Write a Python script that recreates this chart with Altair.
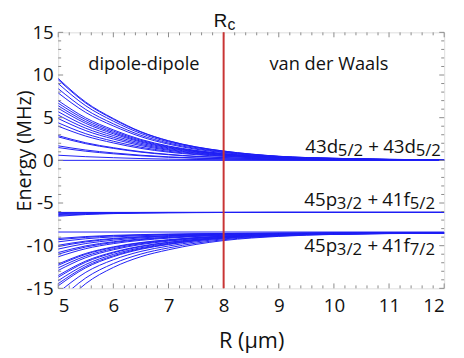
import altair as alt
import pandas as pd

# ---------------- data ----------------
R_GRID = [5, 5.5, 6, 6.5, 7, 7.5, 8, 9, 10, 12]

# 43d5/2 + 43d5/2 manifold (curves converging to 0 MHz)
UPPER_CURVES = [
    [9.60, 6.82, 4.90, 3.36, 2.30, 1.58, 1.09, 0.48, 0.24, 0.06],
    [9.45, 6.71, 4.82, 3.31, 2.27, 1.56, 1.08, 0.47, 0.24, 0.06],
    [9.00, 6.39, 4.59, 3.15, 2.16, 1.49, 1.03, 0.45, 0.23, 0.05],
    [8.40, 5.96, 4.28, 2.94, 2.02, 1.39, 0.96, 0.42, 0.21, 0.05],
    [7.90, 5.61, 4.03, 2.77, 1.90, 1.30, 0.90, 0.40, 0.20, 0.05],
    [7.00, 4.97, 3.57, 2.45, 1.68, 1.16, 0.80, 0.35, 0.18, 0.04],
    [6.70, 4.76, 3.42, 2.35, 1.61, 1.11, 0.76, 0.34, 0.17, 0.04],
    [6.40, 4.54, 3.26, 2.24, 1.54, 1.06, 0.73, 0.32, 0.16, 0.04],
    [6.10, 4.33, 3.11, 2.14, 1.46, 1.01, 0.70, 0.31, 0.15, 0.04],
    [5.70, 4.05, 2.91, 2.00, 1.37, 0.94, 0.65, 0.29, 0.14, 0.03],
    [5.30, 3.76, 2.70, 1.86, 1.27, 0.87, 0.60, 0.27, 0.13, 0.03],
    [4.90, 3.48, 2.50, 1.72, 1.18, 0.81, 0.56, 0.25, 0.12, 0.03],
    [4.40, 3.12, 2.24, 1.54, 1.06, 0.73, 0.50, 0.22, 0.11, 0.03],
    [4.00, 2.84, 2.04, 1.40, 0.96, 0.66, 0.46, 0.20, 0.10, 0.02],
    [2.90, 2.06, 1.48, 1.02, 0.70, 0.48, 0.33, 0.15, 0.07, 0.02],
    [2.75, 1.95, 1.40, 0.96, 0.66, 0.45, 0.31, 0.14, 0.07, 0.02],
    [1.70, 1.21, 0.87, 0.60, 0.41, 0.28, 0.19, 0.09, 0.04, 0.01],
    [1.50, 1.07, 0.77, 0.53, 0.36, 0.25, 0.17, 0.08, 0.04, 0.01],
    [0.60, 0.43, 0.31, 0.21, 0.14, 0.10, 0.07, 0.03, 0.02, 0.00],
]

# 45p3/2 + 41f5/2 manifold (converging to about -6.1 MHz)
MIDDLE_CURVES = [
    [-6.15, -6.13, -6.12, -6.11, -6.10, -6.10, -6.10, -6.10, -6.10, -6.10],
    [-6.25, -6.18, -6.15, -6.12, -6.11, -6.11, -6.10, -6.10, -6.10, -6.10],
    [-6.35, -6.24, -6.18, -6.14, -6.12, -6.11, -6.11, -6.10, -6.10, -6.10],
    [-6.45, -6.29, -6.21, -6.16, -6.13, -6.12, -6.11, -6.10, -6.10, -6.10],
    [-6.55, -6.35, -6.24, -6.17, -6.14, -6.12, -6.11, -6.10, -6.10, -6.10],
]

# 45p3/2 + 41f7/2 manifold (converging to about -8.5 MHz)
LOWER_CURVES = [
    [-9.15, -8.93, -8.79, -8.70, -8.64, -8.60, -8.57, -8.53, -8.51, -8.50],
    [-9.30, -9.03, -8.86, -8.75, -8.68, -8.62, -8.58, -8.54, -8.52, -8.50],
    [-9.55, -9.19, -8.97, -8.83, -8.73, -8.66, -8.61, -8.55, -8.52, -8.50],
    [-9.95, -9.46, -9.15, -8.95, -8.82, -8.72, -8.65, -8.57, -8.53, -8.51],
    [-10.10, -9.56, -9.22, -9.00, -8.85, -8.74, -8.66, -8.57, -8.53, -8.51],
    [-10.40, -9.75, -9.36, -9.09, -8.92, -8.79, -8.69, -8.59, -8.54, -8.51],
    [-10.80, -10.02, -9.54, -9.21, -9.01, -8.85, -8.73, -8.60, -8.55, -8.51],
    [-11.00, -10.15, -9.63, -9.28, -9.05, -8.88, -8.75, -8.61, -8.55, -8.51],
    [-11.30, -10.35, -9.76, -9.37, -9.12, -8.92, -8.78, -8.63, -8.56, -8.51],
    [-12.15, -10.91, -10.14, -9.63, -9.30, -9.05, -8.87, -8.66, -8.57, -8.51],
    [-12.30, -11.01, -10.21, -9.68, -9.34, -9.07, -8.88, -8.67, -8.58, -8.52],
    [-12.60, -11.21, -10.35, -9.77, -9.40, -9.12, -8.91, -8.68, -8.58, -8.52],
    [-12.90, -11.40, -10.48, -9.86, -9.47, -9.16, -8.94, -8.70, -8.59, -8.52],
    [-13.50, -11.80, -10.75, -10.05, -9.60, -9.25, -9.00, -8.73, -8.60, -8.52],
    [-13.70, -11.93, -10.84, -10.11, -9.64, -9.28, -9.02, -8.73, -8.60, -8.52],
    [-14.10, -12.20, -11.02, -10.24, -9.73, -9.34, -9.06, -8.75, -8.61, -8.52],
    [-14.45, -12.43, -11.18, -10.34, -9.81, -9.39, -9.10, -8.77, -8.62, -8.52],
    [-14.70, -12.59, -11.29, -10.42, -9.86, -9.43, -9.12, -8.78, -8.62, -8.52],
    [-15.50, -13.12, -11.65, -10.67, -10.04, -9.55, -9.20, -8.82, -8.64, -8.53],
    [-16.50, -13.78, -12.10, -10.98, -10.26, -9.70, -9.30, -8.86, -8.66, -8.53],
    [-17.50, -14.44, -12.55, -11.29, -10.48, -9.85, -9.40, -8.91, -8.68, -8.54],
]

# non-interacting (flat) levels
FLAT_LEVELS = [0.0, -6.1, -8.4]
FLAT_R = [5, 12]

R_CROSSOVER = [8]

X_MAJOR = [5, 6, 7, 8, 9, 10, 11, 12]
X_MINOR = [round(5 + 0.2 * i, 1) for i in range(36) if i % 5 != 0]
Y_MAJOR = [-15, -10, -5, 0, 5, 10, 15]
Y_MINOR = [v for v in range(-15, 16) if v % 5 != 0]

# ---------------- build tables ----------------
rows = []
cid = 0
for group in (UPPER_CURVES, MIDDLE_CURVES, LOWER_CURVES):
    for curve in group:
        for r, e in zip(R_GRID, curve):
            rows.append({"curve": cid, "R": r, "E": e})
        cid += 1
for lvl in FLAT_LEVELS:
    for r in FLAT_R:
        rows.append({"curve": cid, "R": r, "E": lvl})
    cid += 1
curves_df = pd.DataFrame(rows)

W, H = 392, 260
FONT = "Open Sans"
FRAME = "#8a8a8a"
BLUE = "#1e1ef5"

xscale = alt.Scale(domain=[5, 12], nice=False, zero=False)
yscale = alt.Scale(domain=[-15, 15], nice=False, zero=False)

XAXIS = alt.Axis(
    values=X_MAJOR, labelExpr="datum.value", ticks=False, domain=False, grid=False,
    labelPadding=9, labelFontSize=19, labelFont=FONT, labelColor="#111",
    title="R (μm)", titleFont=FONT, titleFontSize=22, titleFontWeight="normal",
    titleColor="#111", titlePadding=15)
YAXIS = alt.Axis(
    values=Y_MAJOR, labelExpr="datum.value", ticks=False, domain=False, grid=False,
    labelPadding=5, labelFontSize=19, labelFont=FONT, labelColor="#111",
    title="Energy (MHz)", titleFont=FONT, titleFontSize=20, titleFontWeight="normal",
    titleColor="#111", titleX=-24, titleY=120)

lines = alt.Chart(curves_df).mark_line(
    clip=True, interpolate="monotone", color=BLUE, strokeWidth=1.0
).encode(
    x=alt.X("R:Q", scale=xscale, axis=XAXIS),
    y=alt.Y("E:Q", scale=yscale, axis=YAXIS),
    detail="curve:N",
)

red = alt.Chart(pd.DataFrame({"R": R_CROSSOVER})).mark_rule(
    color="#c93434", strokeWidth=2
).encode(x=alt.X("R:Q", scale=xscale, axis=XAXIS))

def xticks(vals, length):
    d = pd.DataFrame({"R": vals})
    bottom = alt.Chart(d).mark_rule(color=FRAME, strokeWidth=1).encode(
        x=alt.X("R:Q", scale=xscale, axis=XAXIS), y=alt.value(H), y2=alt.value(H - length))
    top = alt.Chart(d).mark_rule(color=FRAME, strokeWidth=1).encode(
        x=alt.X("R:Q", scale=xscale, axis=XAXIS), y=alt.value(0), y2=alt.value(length))
    return [bottom, top]

def yticks(vals, length):
    d = pd.DataFrame({"E": vals})
    left = alt.Chart(d).mark_rule(color=FRAME, strokeWidth=1).encode(
        y=alt.Y("E:Q", scale=yscale, axis=YAXIS), x=alt.value(0), x2=alt.value(length))
    right = alt.Chart(d).mark_rule(color=FRAME, strokeWidth=1).encode(
        y=alt.Y("E:Q", scale=yscale, axis=YAXIS), x=alt.value(W), x2=alt.value(W - length))
    return [left, right]

tick_layers = xticks(X_MAJOR, 5) + xticks(X_MINOR, 3) + yticks(Y_MAJOR, 5) + yticks(Y_MINOR, 3)

# ---------------- annotations (pixel positions) ----------------
ONE = pd.DataFrame({"k": [0]})

def txt(label, px, py, size, align="left", font=FONT):
    return alt.Chart(ONE).mark_text(
        align=align, baseline="alphabetic", font=font, fontSize=size, color="#111",
        text=label,
    ).encode(x=alt.value(px), y=alt.value(py))

MAIN, SUB = 19, 17
annotations = [
    txt("43d", 251, 123, MAIN), txt("5/2", 284, 126, SUB), txt("+", 315, 123, MAIN),
    txt("43d", 330, 123, MAIN), txt("5/2", 363, 126, SUB),
    txt("45p", 250, 176, MAIN), txt("3/2", 283, 179, SUB), txt("+", 314, 176, MAIN),
    txt("41f", 329, 176, MAIN), txt("5/2", 357, 179, SUB),
    txt("45p", 250, 223, MAIN), txt("3/2", 283, 226, SUB), txt("+", 314, 223, MAIN),
    txt("41f", 329, 223, MAIN), txt("7/2", 357, 226, SUB),
    txt("dipole-dipole", 87, 38, 18.5, "center"),
    txt("van der Waals", 275, 38, 18.5, "center"),
    txt("R", 158, -5, 19, font="Liberation Sans"),
    txt("c", 172, -2, 16, font="Liberation Sans"),
]

chart = alt.layer(
    lines, *tick_layers, red, *annotations
).properties(
    width=W, height=H,
    autosize=alt.AutoSizeParams(type="none"),
    padding={"left": 51, "top": 22, "right": 12, "bottom": 67},
).configure_view(stroke=FRAME, strokeWidth=1).configure(background="white")

chart.save("out.html", embed_options={"renderer": "svg", "actions": False})
